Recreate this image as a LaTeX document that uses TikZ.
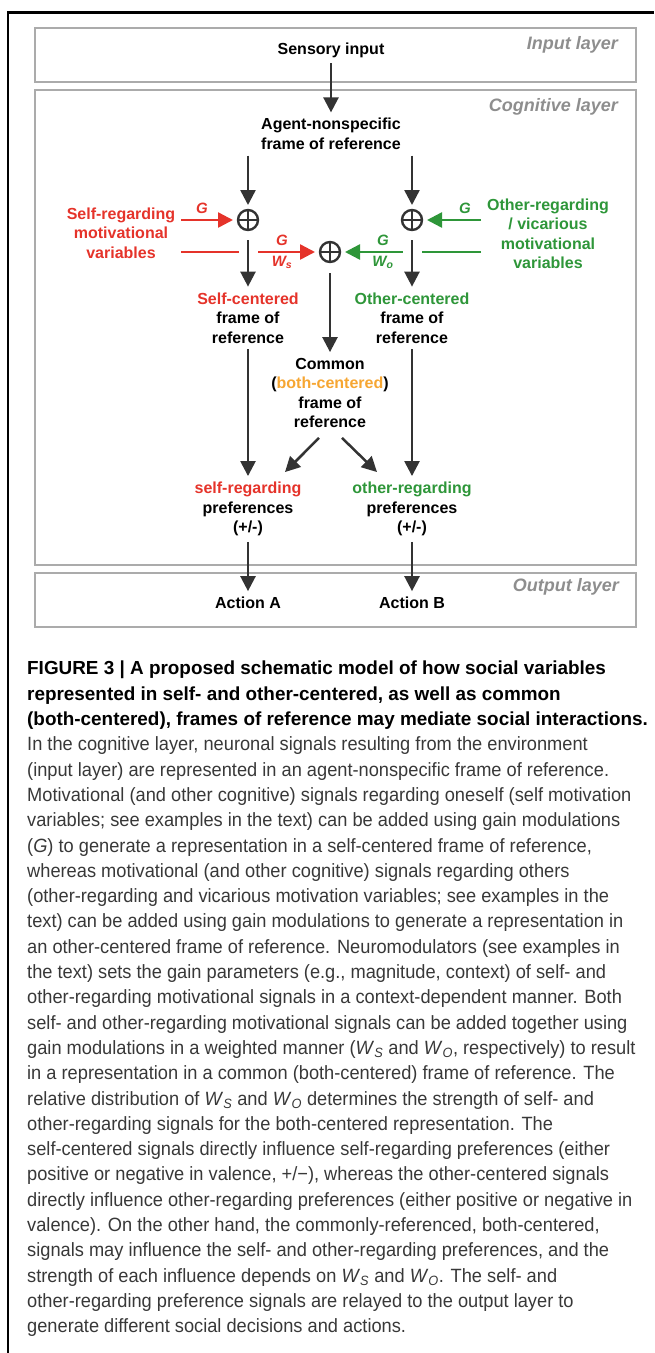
\documentclass[tikz,border=0pt]{standalone}
\usepackage{fontspec}
\setmainfont{Liberation Sans}
\newfontfamily\capfont{Liberation Sans}[FakeStretch=0.95]
\usetikzlibrary{arrows.meta, calc}
\definecolor{selfred}{HTML}{E5332A}
\definecolor{othergreen}{HTML}{2E9639}
\definecolor{bothorange}{HTML}{F6A632}
\definecolor{darkarrow}{HTML}{333333}
\definecolor{layergray}{HTML}{8E8E8E}
\definecolor{boxgray}{HTML}{ABABAB}
\definecolor{captext}{HTML}{383838}
\newcommand{\wsub}[1]{\textit{W}\textsubscript{\textit{#1}}}
\newcommand{\boldcapline}[1]{\textcolor{black}{\rmfamily\bfseries\fontsize{18.9}{25.3}\selectfont #1}}

\begin{document}
\begin{tikzpicture}[x=1pt,y=-1pt,
  layerbox/.style={rectangle,draw=boxgray,line width=1.2pt,minimum width=601pt,inner sep=0pt},
  layername/.style={anchor=east,inner sep=0pt,text=layergray,font=\fontsize{18}{20}\selectfont\bfseries\itshape},
  lbl/.style={align=center,inner sep=0pt,outer sep=6pt,font=\fontsize{16}{19.5}\selectfont\bfseries},
  sumnode/.style={circle,draw=darkarrow,line width=2.4pt,minimum size=20pt,inner sep=0pt,outer sep=5pt,
    path picture={\draw[darkarrow,line width=2.4pt] (path picture bounding box.north)--(path picture bounding box.south) (path picture bounding box.west)--(path picture bounding box.east);}},
  gainlbl/.style={inner sep=0pt,font=\fontsize{15}{15}\selectfont\bfseries\itshape},
  flow/.style={-{Triangle[length=15pt,width=15pt]},line width=2.5pt,darkarrow},
  selfin/.style={-{Triangle[length=15pt,width=15pt]},line width=2.5pt,selfred},
  otherin/.style={-{Triangle[length=15pt,width=15pt]},line width=2.5pt,othergreen},
  cutwhite/.style={preaction={draw=white,line width=19pt,arrows=-}},
  caption/.style={anchor=north west,align=left,inner sep=0pt,text=captext,font=\capfont\fontsize{19.2}{25.3}\selectfont}
]
  \useasboundingbox (0,0) rectangle (654,1353);
  \draw[line width=2.5pt] (8,1353) -- (8,12.5) -- (654,12.5);

  \node[layerbox,minimum height=54pt](inlayer)   at (335.5,55)    {};
  \node[layerbox,minimum height=475pt](coglayer) at (335.5,327.5) {};
  \node[layerbox,minimum height=54pt](outlayer)  at (335.5,600)   {};
  \node[layername](inname)  at (618,45)  {Input layer};
  \node[layername](cogname) at (618,107) {Cognitive layer};
  \node[layername](outname) at (619,587) {Output layer};

  \node[lbl](sensory) at (331,50)  {Sensory input};
  \node[lbl](agent)   at (331,134) {Agent-nonspecific\\frame of reference};
  \node[sumnode](sumself)  at (248,220) {};
  \node[sumnode](sumother) at (412,220) {};
  \node[sumnode](sumboth)  at (330,252) {};
  \node[lbl,text=selfred](selfvar)     at (121,233) {Self-regarding\\motivational\\variables};
  \node[lbl,text=othergreen](othervar) at (548,234) {Other-regarding\\/ vicarious\\motivational\\variables};
  \node[lbl](selfframe)  at (248,318) {\textcolor{selfred}{Self-centered}\\frame of\\reference};
  \node[lbl](otherframe) at (412,318) {\textcolor{othergreen}{Other-centered}\\frame of\\reference};
  \node[lbl](common)     at (330,393) {Common\\(\textcolor{bothorange}{both-centered})\\frame of\\reference};
  \node[lbl](selfpref)   at (248,509) {\textcolor{selfred}{self-regarding}\\preferences\\(+/-)};
  \node[lbl](otherpref)  at (412,509) {\textcolor{othergreen}{other-regarding}\\preferences\\(+/-)};
  \node[lbl](actiona)    at (248,603) {Action A};
  \node[lbl](actionb)    at (412,603) {Action B};

  \node[gainlbl,text=selfred](gself)     at (202,208) {G};
  \node[gainlbl,text=othergreen](gother) at (465,208) {G};
  \node[gainlbl,text=selfred](gws)       at (282,240) {G};
  \node[gainlbl,text=selfred](ws)        at (282,262) {W\textsubscript{s}};
  \node[gainlbl,text=othergreen](gwo)    at (383,240) {G};
  \node[gainlbl,text=othergreen](wo)     at (383,262) {W\textsubscript{o}};

  \draw[flow](sensory)--(agent);
  \draw[flow](sumself |- agent.south)--(sumself);
  \draw[flow](sumother |- agent.south)--(sumother);
  \draw[selfin](selfvar.east |- sumself)--(sumself);
  \draw[otherin](othervar.west |- sumother)--(sumother);
  \draw[selfin](selfvar.east |- sumboth)--(sumboth);
  \draw[otherin](othervar.west |- sumboth)--(sumboth);
  \draw[flow,cutwhite,shorten <=5pt](sumself)--(selfframe);
  \draw[flow,cutwhite,shorten <=5pt](sumother)--(otherframe);
  \draw[flow,shorten <=6pt](sumboth)--(common);
  \draw[flow](selfframe)--(selfpref);
  \draw[flow](otherframe)--(otherpref);
  \draw[flow]([xshift=-11pt,yshift=-4pt]common.south)--([xshift=37pt,yshift=4pt]selfpref.north);
  \draw[flow]([xshift=12pt,yshift=-4pt]common.south)--([xshift=-35pt,yshift=4pt]otherpref.north);
  \draw[flow](selfpref)--(actiona);
  \draw[flow](otherpref)--(actionb);

  \node[caption](legend) at (27,661) {%
    \boldcapline{FIGURE 3 | A proposed schematic model of how social variables}\\
    \boldcapline{represented in self- and other-centered, as well as common}\\
    \boldcapline{(both-centered), frames of reference may mediate social interactions.}\\
    In the cognitive layer, neuronal signals resulting from the environment\\
    (input layer) are represented in an agent-nonspecific frame of reference.\\
    Motivational (and other cognitive) signals regarding oneself (self motivation\\
    variables; see examples in the text) can be added using gain modulations\\
    (\textit{G}) to generate a representation in a self-centered frame of reference,\\
    whereas motivational (and other cognitive) signals regarding others\\
    (other-regarding and vicarious motivation variables; see examples in the\\
    text) can be added using gain modulations to generate a representation in\\
    an other-centered frame of reference. Neuromodulators (see examples in\\
    the text) sets the gain parameters (e.g., magnitude, context) of self- and\\
    other-regarding motivational signals in a context-dependent manner. Both\\
    self- and other-regarding motivational signals can be added together using\\
    gain modulations in a weighted manner (\wsub{S} and \wsub{O}, respectively) to result\\
    in a representation in a common (both-centered) frame of reference. The\\
    relative distribution of \wsub{S} and \wsub{O} determines the strength of self- and\\
    other-regarding signals for the both-centered representation. The\\
    self-centered signals directly influence self-regarding preferences (either\\
    positive or negative in valence, +/−), whereas the other-centered signals\\
    directly influence other-regarding preferences (either positive or negative in\\
    valence). On the other hand, the commonly-referenced, both-centered,\\
    signals may influence the self- and other-regarding preferences, and the\\
    strength of each influence depends on \wsub{S} and \wsub{O}. The self- and\\
    other-regarding preference signals are relayed to the output layer to\\
    generate different social decisions and actions.};
\end{tikzpicture}
\end{document}
